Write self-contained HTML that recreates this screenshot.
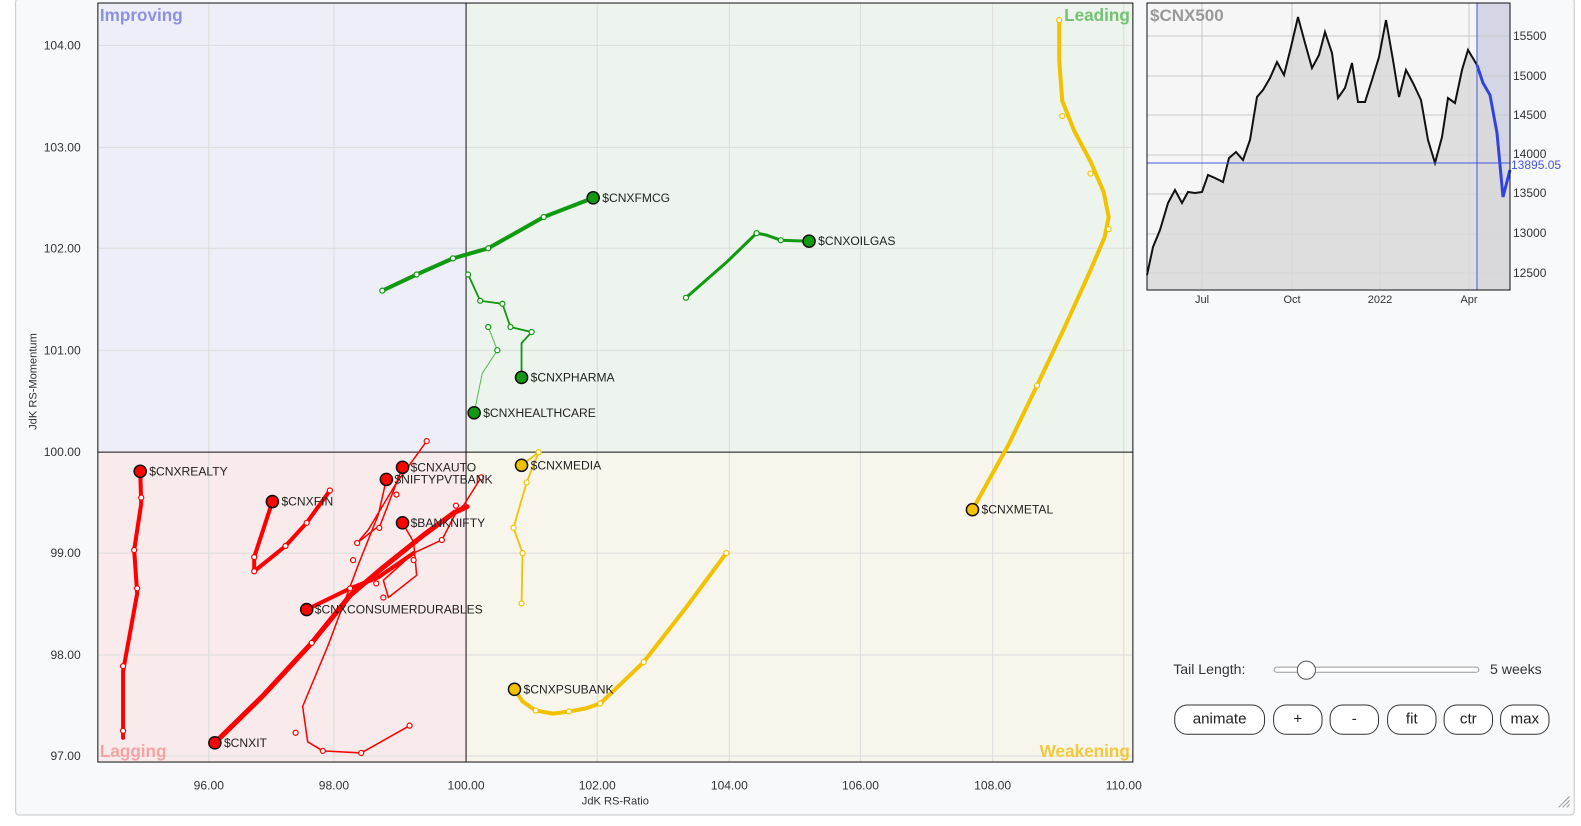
<!DOCTYPE html>
<html><head><meta charset="utf-8"><style>
body{margin:0;background:#fff;width:1581px;height:818px;overflow:hidden;font-family:"Liberation Sans",sans-serif}
#wrap{position:absolute;left:0;top:0;width:1581px;height:818px;transform-origin:0 0;transform:scale(1.0088,1.0093)}
.btn{position:absolute;top:698px;height:28px;border:1px solid #333;border-radius:13px;background:#fff;font-size:15px;text-align:center;line-height:28px;color:#222}
</style></head><body>
<div id="wrap">
<div style="position:absolute;left:15px;top:-2px;width:1544px;height:808px;border:1px solid #c8c8c8;border-radius:4px;background:#f8f9fb"></div>
<svg width="1581" height="818" style="position:absolute;left:0;top:0" font-family="Liberation Sans, sans-serif">
<rect x="97" y="3" width="365" height="445" fill="#eeeef8"/>
<rect x="462" y="3" width="661" height="445" fill="#edf4ed"/>
<rect x="97" y="448" width="365" height="307" fill="#f9ebeb"/>
<rect x="462" y="448" width="661" height="307" fill="#f8f5ec"/>
<g stroke="#dcdcdc" stroke-width="1">
<line x1="207" y1="3" x2="207" y2="755"/><line x1="331" y1="3" x2="331" y2="755"/><line x1="592" y1="3" x2="592" y2="755"/><line x1="723" y1="3" x2="723" y2="755"/><line x1="853" y1="3" x2="853" y2="755"/><line x1="984" y1="3" x2="984" y2="755"/><line x1="1114" y1="3" x2="1114" y2="755"/>
<line x1="97" y1="45" x2="1123" y2="45"/><line x1="97" y1="146" x2="1123" y2="146"/><line x1="97" y1="246" x2="1123" y2="246"/><line x1="97" y1="347" x2="1123" y2="347"/><line x1="97" y1="548" x2="1123" y2="548"/><line x1="97" y1="649" x2="1123" y2="649"/><line x1="97" y1="749" x2="1123" y2="749"/>
</g>
<line x1="462" y1="3" x2="462" y2="755" stroke="#111"/><line x1="97" y1="448" x2="1123" y2="448" stroke="#111"/>
<rect x="97" y="3" width="1026" height="752" fill="none" stroke="#111"/>
<g font-size="17" font-weight="bold">
<text x="99" y="21" fill="#8c90e6">Improving</text>
<text x="1120" y="21" fill="#72c272" text-anchor="end">Leading</text>
<text x="99" y="750" fill="#f4a4a4">Lagging</text>
<text x="1120" y="750" fill="#f2c93c" text-anchor="end">Weakening</text>
</g>
<g font-size="12" fill="#333" text-anchor="end">
<text x="80" y="49">104.00</text><text x="80" y="150">103.00</text><text x="80" y="250">102.00</text><text x="80" y="351">101.00</text><text x="80" y="452">100.00</text><text x="80" y="552">99.00</text><text x="80" y="653">98.00</text><text x="80" y="753">97.00</text>
</g>
<g font-size="12" fill="#333" text-anchor="middle">
<text x="207" y="782">96.00</text><text x="331" y="782">98.00</text><text x="462" y="782">100.00</text><text x="592" y="782">102.00</text><text x="723" y="782">104.00</text><text x="853" y="782">106.00</text><text x="984" y="782">108.00</text><text x="1114" y="782">110.00</text>
<text x="610" y="797" font-size="11">JdK RS-Ratio</text>
<text transform="translate(36,378) rotate(-90)" font-size="11">JdK RS-Momentum</text>
</g>
<g fill="none" stroke-linecap="round" stroke-linejoin="round">
<g stroke="#ff0000">
<polyline stroke-width="4" points="139,467 140,499 133,545 136,588 122,665 122,731"/>
<polyline stroke-width="4" points="270,497 252,552 252,566 283,541 304,518 327,486"/>
<polyline stroke-width="5" points="213,736 260,690 309,637 347,590 380,562 420,530 450,508 463,502"/>
<polyline stroke-width="4" points="304,604 347,583 375,572 410,548"/>
<polyline stroke-width="1.5" points="399,463 377,520 354,538 365,525 392,480 423,437"/>
<polyline stroke-width="1.5" points="383,475 375,510 355,560 325,640 300,700 305,735 320,744 358,746 406,719"/>
<polyline stroke-width="1.5" points="399,518 410,537 413,570 385,592 380,575 410,548 438,535 452,508 460,500 477,473"/>
</g>
<g stroke="#119911">
<polyline stroke-width="4" points="588,196 539,215 484,246 449,256 413,272 379,288"/>
<polyline stroke-width="3" points="802,239 774,238 760,233 750,231 720,260 680,295"/>
<polyline stroke-width="1.8" points="517,374 517,340 527,329 506,324 498,301 476,298 464,272"/>
<polyline stroke-width="1" stroke="#55bb55" points="470,409 478,370 493,347 484,324"/>
</g>
<g stroke="#f2c200">
<polyline stroke-width="4" points="964,505 1000,440 1028,382 1055,325 1080,270 1095,235 1099,215 1094,190 1081,160 1065,130 1053,100 1050,60 1050,20"/>
<polyline stroke-width="1.8" points="517,461 534,448 522,478 509,523 518,548 517,598"/>
<polyline stroke-width="4" points="510,683 518,695 531,704 548,707 564,705 580,702 595,697 615,678 638,656 680,602 720,548"/>
</g>
</g>
<g fill="#fff" stroke-width="1.2">
<g stroke="#ff0000"><circle cx="140" cy="493" r="2.5"/><circle cx="133" cy="545" r="2.5"/><circle cx="136" cy="583" r="2.5"/><circle cx="122" cy="660" r="2.5"/><circle cx="122" cy="724" r="2.5"/><circle cx="252" cy="552" r="2.5"/><circle cx="252" cy="566" r="2.5"/><circle cx="283" cy="541" r="2.5"/><circle cx="304" cy="518" r="2.5"/><circle cx="327" cy="486" r="2.5"/><circle cx="309" cy="637" r="2.5"/><circle cx="347" cy="583" r="2.5"/><circle cx="373" cy="578" r="2.5"/><circle cx="410" cy="555" r="2.5"/><circle cx="423" cy="437" r="2.5"/><circle cx="354" cy="538" r="2.5"/><circle cx="350" cy="555" r="2.5"/><circle cx="293" cy="726" r="2.5"/><circle cx="320" cy="744" r="2.5"/><circle cx="358" cy="746" r="2.5"/><circle cx="406" cy="719" r="2.5"/><circle cx="438" cy="535" r="2.5"/><circle cx="452" cy="501" r="2.5"/><circle cx="477" cy="473" r="2.5"/><circle cx="380" cy="592" r="2.5"/><circle cx="376" cy="523" r="2.5"/><circle cx="393" cy="490" r="2.5"/></g>
<g stroke="#119911"><circle cx="539" cy="215" r="2.5"/><circle cx="484" cy="246" r="2.5"/><circle cx="449" cy="256" r="2.5"/><circle cx="413" cy="272" r="2.5"/><circle cx="379" cy="288" r="2.5"/><circle cx="774" cy="238" r="2.5"/><circle cx="750" cy="231" r="2.5"/><circle cx="680" cy="295" r="2.5"/><circle cx="527" cy="329" r="2.5"/><circle cx="506" cy="324" r="2.5"/><circle cx="498" cy="301" r="2.5"/><circle cx="476" cy="298" r="2.5"/><circle cx="464" cy="272" r="2.5"/><circle cx="493" cy="347" r="2.5"/><circle cx="484" cy="324" r="2.5"/></g>
<g stroke="#f2c200"><circle cx="1028" cy="382" r="2.5"/><circle cx="1099" cy="227" r="2.5"/><circle cx="1081" cy="172" r="2.5"/><circle cx="1053" cy="115" r="2.5"/><circle cx="1050" cy="20" r="2.5"/><circle cx="534" cy="448" r="2.5"/><circle cx="522" cy="478" r="2.5"/><circle cx="509" cy="523" r="2.5"/><circle cx="518" cy="548" r="2.5"/><circle cx="517" cy="598" r="2.5"/><circle cx="531" cy="704" r="2.5"/><circle cx="564" cy="705" r="2.5"/><circle cx="595" cy="697" r="2.5"/><circle cx="638" cy="656" r="2.5"/><circle cx="720" cy="548" r="2.5"/></g>
</g>
<g stroke="#111" stroke-width="1.5">
<g fill="#ff0000"><circle cx="139" cy="467" r="6"/><circle cx="270" cy="497" r="6"/><circle cx="213" cy="736" r="6"/><circle cx="304" cy="604" r="6"/><circle cx="399" cy="463" r="6"/><circle cx="383" cy="475" r="6"/><circle cx="399" cy="518" r="6"/></g>
<g fill="#119911"><circle cx="588" cy="196" r="6"/><circle cx="802" cy="239" r="6"/><circle cx="517" cy="374" r="6"/><circle cx="470" cy="409" r="6"/></g>
<g fill="#f2c200"><circle cx="964" cy="505" r="6"/><circle cx="517" cy="461" r="6"/><circle cx="510" cy="683" r="6"/></g>
</g>
<g font-size="12" fill="#222">
<text x="148" y="471">$CNXREALTY</text><text x="279" y="501">$CNXFIN</text><text x="222" y="740">$CNXIT</text><text x="312" y="608">$CNXCONSUMERDURABLES</text><text x="407" y="467">$CNXAUTO</text><text x="391" y="479">$NIFTYPVTBANK</text><text x="407" y="522">$BANKNIFTY</text>
<text x="597" y="200">$CNXFMCG</text><text x="811" y="243">$CNXOILGAS</text><text x="526" y="378">$CNXPHARMA</text><text x="479" y="413">$CNXHEALTHCARE</text>
<text x="973" y="509">$CNXMETAL</text><text x="526" y="465">$CNXMEDIA</text><text x="519" y="687">$CNXPSUBANK</text>
</g>
<text x="1163" y="668" font-size="14" fill="#333">Tail Length:</text>
<rect x="1263" y="661" width="203" height="5" rx="2.5" fill="#fff" stroke="#999"/>
<circle cx="1295" cy="664" r="9" fill="#fff" stroke="#555"/>
<text x="1477" y="668" font-size="14" fill="#333">5 weeks</text>
<g stroke="#999"><line x1="1545" y1="800" x2="1556" y2="789"/><line x1="1549" y1="800" x2="1556" y2="793"/><line x1="1553" y1="800" x2="1556" y2="797"/></g>
</svg>
<div class="btn" style="left:1164px;width:88px">animate</div>
<div class="btn" style="left:1262px;width:47px">+</div>
<div class="btn" style="left:1318px;width:47px">-</div>
<div class="btn" style="left:1375px;width:47px">fit</div>
<div class="btn" style="left:1431px;width:47px">ctr</div>
<div class="btn" style="left:1487px;width:47px">max</div>
</div>
<svg width="1581" height="818" style="position:absolute;left:0;top:0" font-family="Liberation Sans, sans-serif">
<rect x="1147" y="3" width="363" height="287" fill="#f6f6f6"/>
<rect x="1477" y="3" width="33" height="287" fill="#d4d6e6"/>
<g stroke="#c8c8c8"><line x1="1202" y1="3" x2="1202" y2="290"/><line x1="1292" y1="3" x2="1292" y2="290"/><line x1="1380" y1="3" x2="1380" y2="290"/><line x1="1469" y1="3" x2="1469" y2="290"/>
<line x1="1147" y1="36" x2="1510" y2="36"/><line x1="1147" y1="76" x2="1510" y2="76"/><line x1="1147" y1="115" x2="1510" y2="115"/><line x1="1147" y1="155" x2="1510" y2="155"/><line x1="1147" y1="194" x2="1510" y2="194"/><line x1="1147" y1="234" x2="1510" y2="234"/><line x1="1147" y1="273" x2="1510" y2="273"/></g>
<polygon fill="#d9d9d9" fill-opacity="0.85" points="1147,275 1153,247 1160,230 1168,203 1175,190 1182,203 1188,192 1195,193 1202,192 1208,175 1215,178 1223,182 1229,158 1236,152 1243,160 1250,140 1257,97 1263,90 1270,78 1277,62 1284,75 1291,47 1298,17 1305,43 1312,68 1319,55 1325,32 1332,53 1338,98 1345,88 1352,63 1358,102 1365,102 1372,80 1379,57 1386,20 1393,60 1399,97 1406,70 1413,83 1421,100 1428,140 1435,163 1442,137 1448,98 1455,103 1462,70 1468,50 1477,65 1483,83 1490,95 1497,133 1503,197 1510,170 1510,290 1147,290"/>
<polyline fill="none" stroke="#111" stroke-width="2" points="1147,275 1153,247 1160,230 1168,203 1175,190 1182,203 1188,192 1195,193 1202,192 1208,175 1215,178 1223,182 1229,158 1236,152 1243,160 1250,140 1257,97 1263,90 1270,78 1277,62 1284,75 1291,47 1298,17 1305,43 1312,68 1319,55 1325,32 1332,53 1338,98 1345,88 1352,63 1358,102 1365,102 1372,80 1379,57 1386,20 1393,60 1399,97 1406,70 1413,83 1421,100 1428,140 1435,163 1442,137 1448,98 1455,103 1462,70 1468,50 1477,65"/>
<polyline fill="none" stroke="#3344dd" stroke-width="3" points="1477,65 1483,83 1490,95 1497,133 1503,197 1510,170"/>
<line x1="1477" y1="3" x2="1477" y2="290" stroke="#4455dd"/>
<line x1="1147" y1="163" x2="1510" y2="163" stroke="#4455dd"/>
<rect x="1147" y="3" width="363" height="287" fill="none" stroke="#111"/>
<text x="1150" y="21" font-size="17" font-weight="bold" fill="#999">$CNX500</text>
<g font-size="12" fill="#333"><text x="1513" y="40">15500</text><text x="1513" y="80">15000</text><text x="1513" y="119">14500</text><text x="1513" y="158">14000</text><text x="1513" y="197">13500</text><text x="1513" y="237">13000</text><text x="1513" y="277">12500</text>
<text x="1511" y="169" fill="#4455dd">13895.05</text></g>
<g font-size="11" fill="#333" text-anchor="middle"><text x="1202" y="303">Jul</text><text x="1292" y="303">Oct</text><text x="1380" y="303">2022</text><text x="1469" y="303">Apr</text></g>
</svg>
</body></html>
